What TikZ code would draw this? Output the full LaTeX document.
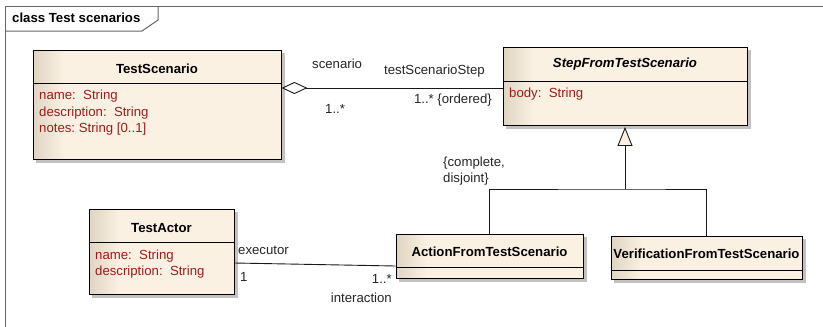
\documentclass[tikz,border=0pt]{standalone}
\usepackage{fontspec}
\setmainfont{Liberation Sans}
\usetikzlibrary{arrows.meta,backgrounds}
\definecolor{umllight}{RGB}{250,241,226}
\definecolor{umldark}{RGB}{224,213,195}
\definecolor{attrred}{RGB}{158,28,28}

\begin{document}
\begin{tikzpicture}[x=1pt,y=-1pt,
    classbox/.style={draw=black, line width=0.9pt, fill=umllight, inner sep=0pt,
      path picture={\foreach \i in {0,...,14} {
          \pgfmathsetmacro{\mix}{100*\i/15}
          \fill[umllight!\mix!umldark] ([xshift=2*\i pt]path picture bounding box.north west)
            rectangle ([xshift=2*\i pt+2.2pt]path picture bounding box.south west);}}},
    sepline/.style={line width=0.9pt},
    conn/.style={line width=0.9pt, black!90},
    frame/.style={line width=1pt, black!60},
    lbl/.style={font=\fontsize{13.2}{15.5}\selectfont, inner sep=0pt, text=black!85},
    ttl/.style={font=\fontsize{13.2}{15.5}\selectfont\bfseries, inner sep=0pt},
    attr/.style={lbl, text=attrred, anchor=base west}]
    \useasboundingbox (0,0) rectangle (823,327);
    % frame and its tab
    \draw[frame] (823,6) -- (5,6) -- (5,327);
    \draw[frame] (5,31) -- (142,31) -- (158,20) -- (158,6);
    \node[ttl, anchor=west] (frametitle) at (12,18) {class Test scenarios};

    % classes
    \node[classbox, minimum width=248pt, minimum height=109pt] (scen) at (157,104.5) {};
    \draw[sepline] (scen.west |- 0,83) -- (scen.east |- 0,83);
    \node[ttl] (scentitle) at (157,69) {TestScenario};
    \node[attr] (scenattr1) at (39,99.5) {name:\ \ String};
    \node[attr] (scenattr2) at (39,116) {description:\ \ String};
    \node[attr] (scenattr3) at (39,132.5) {notes:\ String [0..1]};

    \node[classbox, minimum width=244pt, minimum height=78pt] (step) at (625,86) {};
    \draw[sepline] (step.west |- 0,81) -- (step.east |- 0,81);
    \node[ttl, font=\fontsize{13.2}{15.5}\selectfont\bfseries\itshape] (steptitle) at (625,64) {StepFromTestScenario};
    \node[attr] (stepattr1) at (509,97.5) {body:\ \ String};

    \node[classbox, minimum width=187pt, minimum height=44pt] (act) at (489.5,256) {};
    \draw[sepline] (act.west |- 0,267) -- (act.east |- 0,267);
    \node[ttl] (acttitle) at (489.5,252) {ActionFromTestScenario};

    \node[classbox, minimum width=191pt, minimum height=43pt] (ver) at (706.5,257.5) {};
    \draw[sepline] (ver.west |- 0,270) -- (ver.east |- 0,270);
    \node[ttl] (vertitle) at (706.5,254) {VerificationFromTestScenario};

    \node[classbox, minimum width=145pt, minimum height=85pt] (actor) at (161.5,251.5) {};
    \draw[sepline] (actor.west |- 0,242) -- (actor.east |- 0,242);
    \node[ttl] (actortitle) at (161.5,228) {TestActor};
    \node[attr] (actorattr1) at (95,259.5) {name:\ \ String};
    \node[attr] (actorattr2) at (95,275.5) {description:\ \ String};

    % aggregation
    \draw[conn, {Diamond[open,length=26pt,width=12pt]}-] (scen.east |- 0,88) -- (step.west |- 0,88);
    \node[lbl, anchor=west] (rolescen) at (312,64) {scenario};
    \node[lbl, anchor=west] (multscen) at (325,109) {1..*};
    \node[lbl, anchor=west] (rolestep) at (384,71) {testScenarioStep};
    \node[lbl, anchor=east] (multstep) at (492,100) {1..* \{ordered\}};

    % generalization
    \coordinate (genjoin) at (625,189);
    \draw[conn, -{Triangle[length=19pt,width=15pt,fill=umllight]}, shorten >=1.5pt] (genjoin) -- (step.south);
    \draw[conn] (act.north) |- (genjoin) -| (ver.north);
    \node[lbl, anchor=north west, align=left] (gencons) at (443,157) {\{complete,\\disjoint\}};

    % association
    \draw[conn] ([yshift=-11.5pt]actor.east) -- ([yshift=-10pt]act.west);
    \node[lbl, anchor=west] (roleexec) at (238,250) {executor};
    \node[lbl, anchor=west] (multexec) at (240,277) {1};
    \node[lbl, anchor=east] (multinter) at (392,279) {1..*};
    \node[lbl, anchor=east] (roleinter) at (392,298) {interaction};

    % white page and box shadows underneath
    \begin{scope}[on background layer]
      \fill[white] (0,0) rectangle (823,327);
      \foreach \c in {scen,step,act,ver,actor}
        \fill[black!24] ([shift={(3.5pt,-3.5pt)}]\c.north west) rectangle ([shift={(3.5pt,-3.5pt)}]\c.south east);
    \end{scope}
\end{tikzpicture}
\end{document}
